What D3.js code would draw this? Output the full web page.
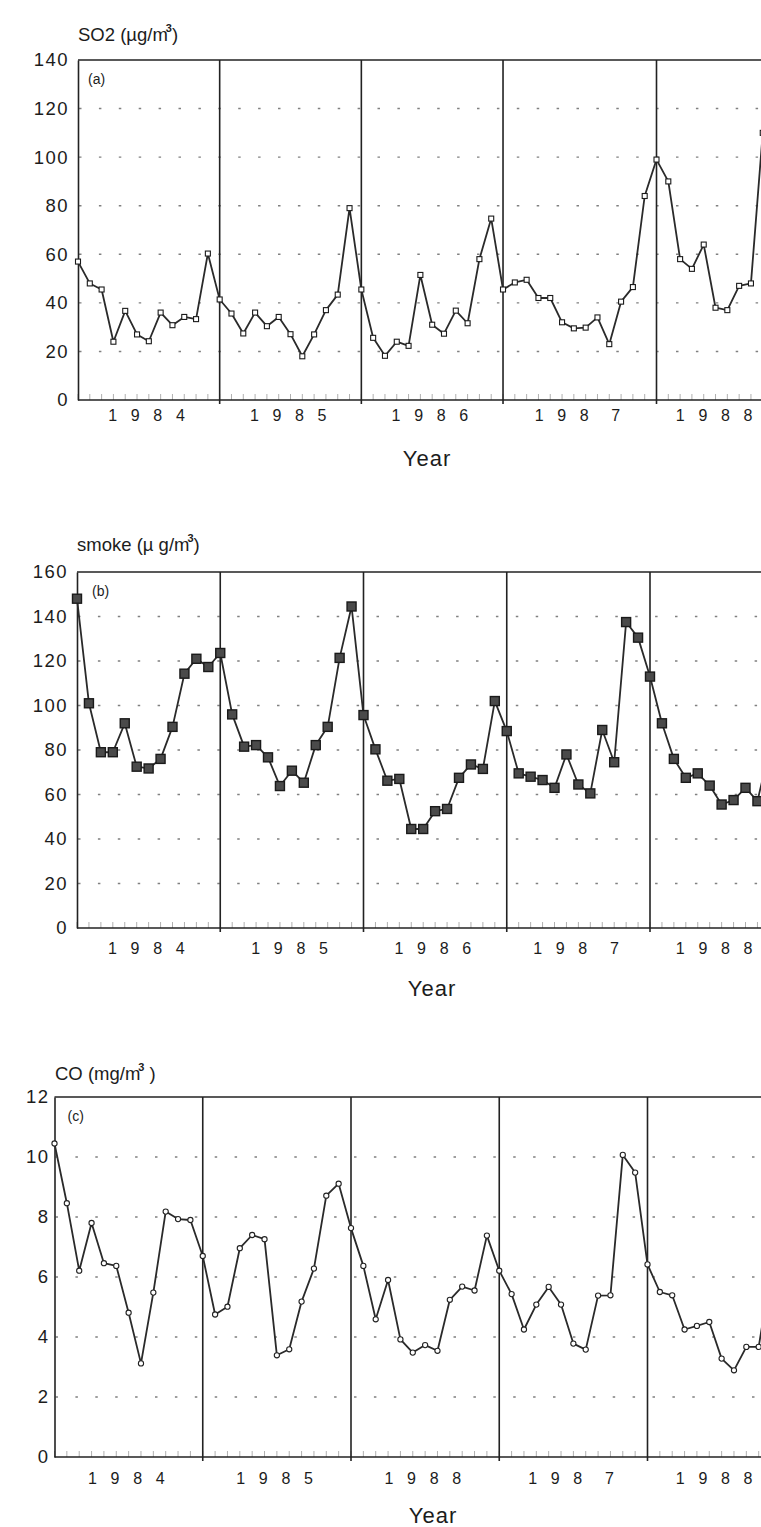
<!DOCTYPE html>
<html>
<head>
	<meta charset="utf-8">
	<script src="https://d3js.org/d3.v7.min.js"></script>
	<style>
		body { margin: 0; background: #fff; }
		text { font-family: "Liberation Sans", Arial, sans-serif; fill: #1c1c1c; }
	</style>
</head>
<body>
<svg id="container"></svg>
</body>
<script>
// monthly values, first value = Jan 1984 (last one runs off the right edge)
let so2Values = [
	57, 48, 45.5, 24, 36.7, 27, 24.2, 36, 30.8, 34.2, 33.3, 60.3,
	41.4, 35.6, 27.4, 36, 30.4, 34.2, 27.1, 18, 27, 37, 43.4, 79,
	45.5, 25.6, 18.2, 24, 22.3, 51.5, 31, 27.3, 36.8, 31.6, 58, 74.7,
	45.5, 48.4, 49.5, 42, 42, 32, 29.5, 29.8, 34, 23, 40.5, 46.5, 84,
	99, 90, 58, 54, 64, 38, 37, 47, 48, 110
];
let smokeValues = [
	148, 101, 79, 79, 92, 72.5, 71.7, 76, 90.4, 114.3, 121, 117.3,
	123.6, 96, 81.5, 82.2, 76.7, 63.8, 70.7, 65.3, 82.2, 90.4, 121.4, 144.5,
	95.7, 80.3, 66.2, 67, 44.5, 44.5, 52.5, 53.5, 67.5, 73.5, 71.5, 102,
	88.5, 69.5, 68, 66.5, 63, 78, 64.5, 60.5, 89, 74.5, 137.5, 130.5,
	113, 92, 76, 67.5, 69.5, 64, 55.5, 57.5, 63, 57, 80
];
let coValues = [
	10.45, 8.46, 6.21, 7.8, 6.46, 6.37, 4.81, 3.12, 5.48, 8.18, 7.93, 7.9,
	6.7, 4.75, 5.01, 6.96, 7.4, 7.26, 3.39, 3.59, 5.18, 6.28, 8.71, 9.11,
	7.63, 6.37, 4.59, 5.9, 3.92, 3.48, 3.73, 3.54, 5.24, 5.68, 5.55, 7.38,
	6.21, 5.43, 4.25, 5.08, 5.67, 5.08, 3.78, 3.58, 5.38, 5.39, 10.07, 9.48,
	6.42, 5.5, 5.39, 4.25, 4.37, 4.5, 3.28, 2.89, 3.67, 3.67, 6.2
];

// index of the first point of each year
let so2YearStarts = [0, 12, 24, 36, 49];
let yearStarts = [0, 12, 24, 36, 48];

let yearLabelsAB = ['1 9 8 4', '1 9 8 5', '1 9 8 6', '1 9 8  7', '1 9 8 8'];
let yearLabelsC = ['1 9 8 4', '1 9 8 5', '1 9 8 8', '1 9 8  7', '1 9 8 8'];

let so2Ticks = [0, 20, 40, 60, 80, 100, 120, 140];
let smokeTicks = [0, 20, 40, 60, 80, 100, 120, 140, 160];
let coTicks = [0, 2, 4, 6, 8, 10, 12];
</script>

<script>
let W = 761, H = 1527;
let svg = d3.select('#container').attr('width', W).attr('height', H);
svg.append('rect').attr('width', W).attr('height', H).attr('fill', '#fff');

let drawPanel = function(p) {
	let g = svg.append('g');
	let starts = p.starts;
	let lastStart = starts[starts.length - 1];

	let x = d3.scaleLinear().domain([0, lastStart]).range([p.left, p.lastYearX]);
	let y = d3.scaleLinear().domain([0, p.ticks[p.ticks.length - 1]]).range([p.bottom, p.top]);
	let xEnd = x(lastStart + 14);

	// dotted grid
	g.selectAll('.grid')
		.data(p.ticks.slice(1, -1))
		.enter()
		.append('line')
		.attr('x1', x(0) + 1)
		.attr('x2', xEnd)
		.attr('y1', (d) => y(d))
		.attr('y2', (d) => y(d))
		.attr('stroke', '#808080')
		.attr('stroke-width', 1.4)
		.attr('stroke-dasharray', '2.5 17.4');

	// little month ticks along the bottom
	g.selectAll('.mtick')
		.data(d3.range(0, lastStart + 14))
		.enter()
		.append('line')
		.attr('x1', (d) => x(d))
		.attr('x2', (d) => x(d))
		.attr('y1', y(0))
		.attr('y2', y(0) - 6)
		.attr('stroke', '#b0b0b0')
		.attr('stroke-width', 1);

	// frame: top, bottom and year separators
	g.append('line')
		.attr('x1', x(0)).attr('x2', xEnd)
		.attr('y1', y.range()[1]).attr('y2', y.range()[1])
		.attr('stroke', '#222').attr('stroke-width', 1.6);
	g.append('line')
		.attr('x1', x(0)).attr('x2', xEnd)
		.attr('y1', y(0)).attr('y2', y(0))
		.attr('stroke', '#222').attr('stroke-width', 1.6);
	g.selectAll('.yearline')
		.data(starts.slice(1))
		.enter()
		.append('line')
		.attr('x1', (d) => x(d))
		.attr('x2', (d) => x(d))
		.attr('y1', y.range()[1])
		.attr('y2', y(0) + 4)
		.attr('stroke', '#222')
		.attr('stroke-width', 1.6);

	// y axis
	let yAxis = g.append('g')
		.attr('transform', 'translate(' + x(0) + ',0)')
		.call(d3.axisLeft(y).tickValues(p.ticks).tickSizeInner(0).tickSizeOuter(0).tickPadding(p.tickPad));
	yAxis.select('.domain').attr('stroke', '#222').attr('stroke-width', 1.6);
	yAxis.selectAll('text')
		.attr('font-family', '"Liberation Sans", Arial, sans-serif')
		.attr('font-size', 18.5)
		.attr('letter-spacing', '1.5px')
		.attr('fill', '#1c1c1c');

	// year labels under each year; the last one is kept inside the picture
	g.selectAll('.ylab')
		.data(p.yearLabels)
		.enter()
		.append('text')
		.attr('x', (d, i) => x((starts[i] + (i + 1 < starts.length ? starts[i + 1] : starts[i] + 12)) / 2))
		.attr('y', p.yearLabelY)
		.attr('text-anchor', 'middle')
		.attr('font-size', 16)
		.attr('letter-spacing', '4.6px')
		.style('white-space', 'pre')
		.text((d) => d)
		.each(function() {
			let el = d3.select(this);
			let half = this.getComputedTextLength() / 2;
			let cx = +el.attr('x');
			if (cx + half > W - 4) el.attr('x', W - 4 - half);
		});

	g.append('text')
		.attr('x', p.xTitleX)
		.attr('y', p.xTitleY)
		.attr('text-anchor', 'middle')
		.attr('font-size', 22)
		.attr('letter-spacing', '1px')
		.text('Year');

	// y title with superscript 3
	let t = g.append('text')
		.attr('x', p.titleX)
		.attr('y', p.titleY)
		.attr('font-size', 18.5)
		.style('white-space', 'pre');
	t.append('tspan').text(p.title);
	t.append('tspan').attr('dy', -9).attr('dx', -2).attr('font-size', 11).attr('font-weight', 'bold').text('3');
	t.append('tspan').attr('dy', 9).text(p.titleEnd);

	g.append('text')
		.attr('x', x(0) + p.tagDx)
		.attr('y', y.range()[1] + 24)
		.attr('font-size', 14)
		.attr('fill', '#3a3a3a')
		.text(p.tag);

	// series
	let line = d3.line()
		.x((d, i) => x(i))
		.y((d) => y(d));
	g.append('path')
		.datum(p.values)
		.attr('d', line)
		.attr('fill', 'none')
		.attr('stroke', '#2a2a2a')
		.attr('stroke-width', 1.8)
		.attr('stroke-linejoin', 'round');

	if (p.marker === 'circle') {
		g.selectAll('.pt')
			.data(p.values)
			.enter()
			.append('circle')
			.attr('cx', (d, i) => x(i))
			.attr('cy', (d) => y(d))
			.attr('r', 2.6)
			.attr('fill', '#fff')
			.attr('stroke', '#222')
			.attr('stroke-width', 1.1);
	} else {
		let s = p.marker === 'big' ? 9 : 5;
		g.selectAll('.pt')
			.data(p.values)
			.enter()
			.append('rect')
			.attr('x', (d, i) => x(i) - s / 2)
			.attr('y', (d) => y(d) - s / 2)
			.attr('width', s)
			.attr('height', s)
			.attr('fill', p.marker === 'big' ? '#4a4a4a' : '#fff')
			.attr('stroke', '#1a1a1a')
			.attr('stroke-width', p.marker === 'big' ? 1.4 : 1.1);
	}
}

drawPanel({
	values: so2Values, starts: so2YearStarts, ticks: so2Ticks, yearLabels: yearLabelsAB,
	left: 78, lastYearX: 656.5, top: 60, bottom: 400, tickPad: 9,
	yearLabelY: 421, xTitleX: 427, xTitleY: 466,
	title: 'SO2 (µg/m', titleEnd: ')', titleX: 78, titleY: 41,
	tag: '(a)', tagDx: 10, marker: 'small'
});

drawPanel({
	values: smokeValues, starts: yearStarts, ticks: smokeTicks, yearLabels: yearLabelsAB,
	left: 77, lastYearX: 650, top: 572, bottom: 928, tickPad: 9,
	yearLabelY: 954, xTitleX: 432, xTitleY: 996,
	title: 'smoke (µ g/m', titleEnd: ')', titleX: 77, titleY: 551,
	tag: '(b)', tagDx: 15, marker: 'big'
});

drawPanel({
	values: coValues, starts: yearStarts, ticks: coTicks, yearLabels: yearLabelsC,
	left: 54.5, lastYearX: 647.5, top: 1097, bottom: 1457, tickPad: 5,
	yearLabelY: 1484, xTitleX: 433, xTitleY: 1523,
	title: 'CO (mg/m', titleEnd: ' )', titleX: 55, titleY: 1080,
	tag: '(c)', tagDx: 13, marker: 'circle'
});
</script>
</html>
